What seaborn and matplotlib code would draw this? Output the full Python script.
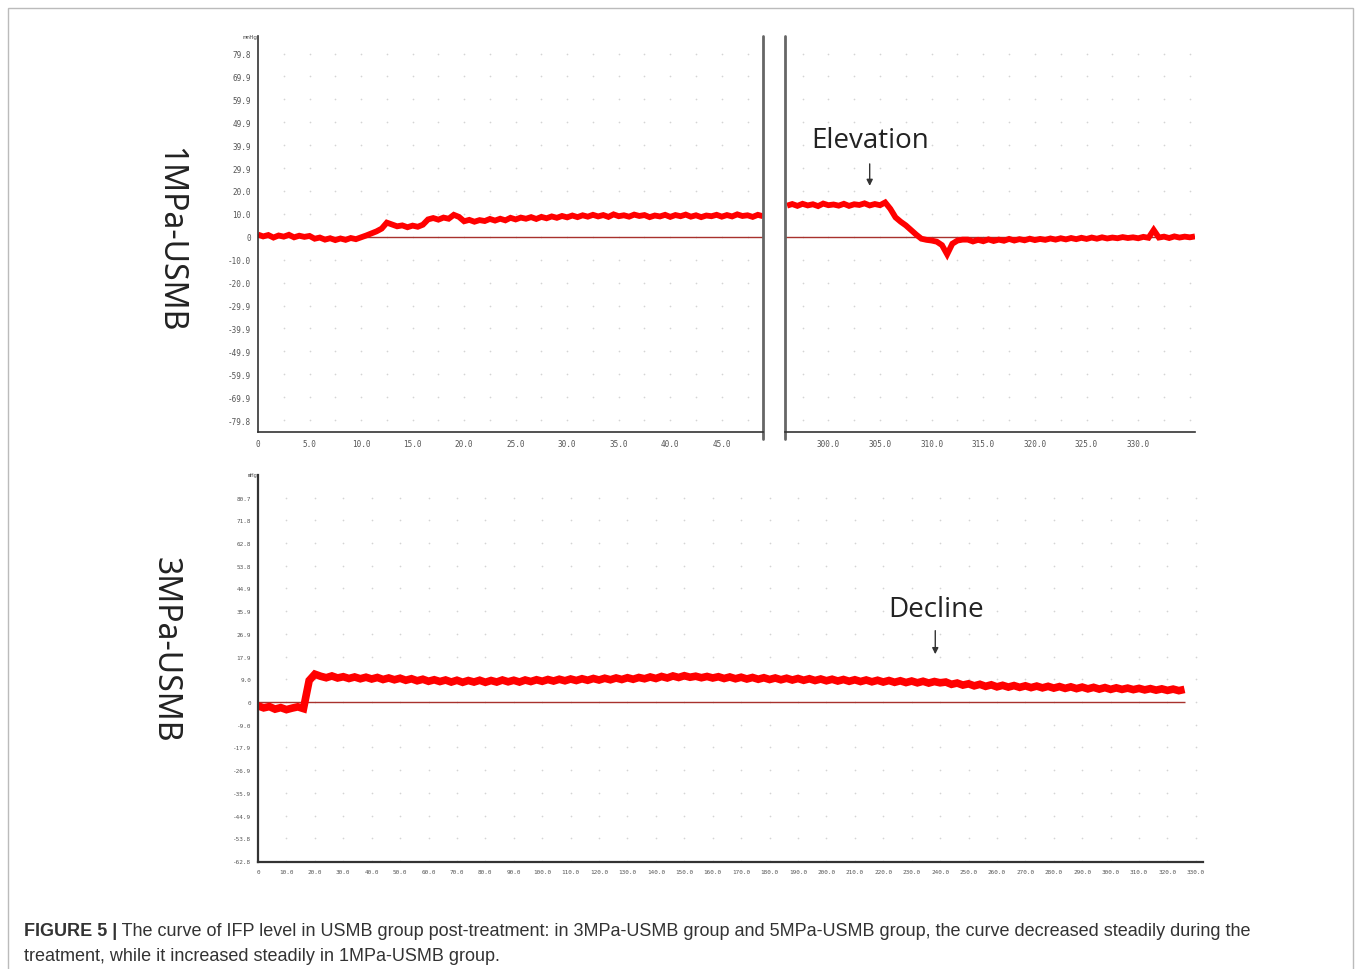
import numpy as np
import pandas as pd
import matplotlib
matplotlib.use("Agg")
import matplotlib.pyplot as plt
import seaborn as sns

# ----------------------------
# Data
# ----------------------------
# 1MPa-USMB, first segment, sampled every 0.5 s
t_1a = np.arange(0, 49.01, 0.5)
ifp_1a = [1.0, 0.2, 0.8, -0.3, 0.6, 0.1, 0.9, -0.2, 0.5, 0.0,
          0.4, -0.8, -0.3, -1.2, -0.6, -1.4, -0.7, -1.3, -0.5, -1.0,
          -0.2, 0.6, 1.5, 2.4, 3.6, 6.2, 5.4, 4.6, 5.0, 4.2,
          4.9, 4.4, 5.3, 7.6, 8.2, 7.5, 8.4, 7.9, 9.6, 8.7,
          6.8, 7.4, 6.6, 7.3, 6.9, 7.8, 7.1, 7.9, 7.2, 8.3,
          7.6, 8.4, 7.9, 8.6, 7.8, 8.7, 8.1, 8.9, 8.3, 9.1,
          8.5, 9.3, 8.6, 9.4, 8.8, 9.6, 8.9, 9.5, 8.7, 9.8,
          9.0, 9.4, 8.8, 9.7, 9.1, 9.5, 8.6, 9.3, 8.9, 9.6,
          8.7, 9.5, 9.0, 9.7, 8.8, 9.4, 8.6, 9.3, 9.0, 9.6,
          8.8, 9.5, 8.9, 9.8, 9.1, 9.4, 8.7, 9.6, 9.0]

# 1MPa-USMB, second segment
t_1b = np.arange(296, 335.51, 0.5)
ifp_1b = [13.6, 14.3, 13.5, 14.4, 13.7, 14.2, 13.4, 14.5, 13.8, 14.1,
          13.6, 14.4, 13.5, 14.2, 13.9, 14.6, 13.7, 14.3, 13.8, 15.0,
          12.2, 8.5, 6.6, 5.0, 3.0, 1.0, -0.8, -1.3, -1.6, -2.1,
          -3.6, -7.6, -3.0, -1.6, -1.2, -1.2, -2.0, -1.3, -1.9, -1.1,
          -1.8, -1.2, -1.7, -0.9, -1.6, -1.0, -1.5, -0.8, -1.4, -0.9,
          -1.3, -0.7, -1.2, -0.6, -1.1, -0.5, -1.0, -0.4, -0.9, -0.3,
          -0.8, -0.2, -0.7, -0.3, -0.6, -0.1, -0.5, -0.2, -0.6, 0.0,
          -0.4, 3.0, -0.3, 0.1, -0.5, 0.2, -0.3, 0.1, -0.2, 0.2]

# 3MPa-USMB, sampled every 2 s
t_3 = np.arange(0, 326.1, 2)
ifp_3 = [-1.5, -2.3, -1.8, -2.8, -2.2, -3.0, -2.4, -1.9, -2.6, 8.5,
         11.0, 10.2, 9.6, 10.3, 9.5, 10.0, 9.3, 9.9, 9.2, 9.8,
         9.1, 9.7, 8.9, 9.5, 8.8, 9.4, 8.6, 9.2, 8.4, 9.0,
         8.2, 8.8, 8.1, 8.7, 7.9, 8.6, 7.8, 8.5, 7.9, 8.6,
         7.8, 8.5, 7.9, 8.7, 8.0, 8.6, 7.9, 8.7, 8.1, 8.8,
         8.2, 8.9, 8.3, 9.0, 8.4, 9.1, 8.5, 9.2, 8.6, 9.3,
         8.7, 9.4, 8.8, 9.5, 8.9, 9.6, 9.0, 9.7, 9.2, 9.9,
         9.3, 10.1, 9.5, 10.3, 9.7, 10.4, 9.8, 10.2, 9.6, 10.1,
         9.5, 10.0, 9.3, 9.9, 9.2, 9.8, 9.1, 9.7, 9.0, 9.6,
         8.9, 9.5, 8.8, 9.4, 8.7, 9.3, 8.6, 9.2, 8.5, 9.1,
         8.4, 9.0, 8.3, 8.9, 8.2, 8.8, 8.1, 8.7, 8.0, 8.6,
         7.9, 8.5, 7.8, 8.4, 7.7, 8.3, 7.6, 8.2, 7.5, 8.1,
         7.6, 7.9, 7.0, 7.5, 6.7, 7.2, 6.4, 7.0, 6.2, 6.8,
         6.0, 6.6, 5.9, 6.5, 5.8, 6.4, 5.7, 6.3, 5.6, 6.2,
         5.5, 6.1, 5.4, 6.0, 5.3, 5.9, 5.2, 5.8, 5.1, 5.7,
         5.0, 5.6, 5.0, 5.5, 4.9, 5.4, 4.8, 5.3, 4.7, 5.2,
         4.6, 5.1, 4.5, 5.0]

yticks_1 = [79.8, 69.9, 59.9, 49.9, 39.9, 29.9, 20.0, 10.0, 0,
            -10.0, -20.0, -29.9, -39.9, -49.9, -59.9, -69.9, -79.8]
yticks_3 = [80.7, 71.8, 62.8, 53.8, 44.9, 35.9, 26.9, 17.9, 9.0, 0,
            -9.0, -17.9, -26.9, -35.9, -44.9, -53.8, -62.8]
xticks_1a = [0, 5, 10, 15, 20, 25, 30, 35, 40, 45]
xticks_1b = [300, 305, 310, 315, 320, 325, 330]
xticks_3 = list(range(0, 331, 10))

caption_bold = "FIGURE 5 |"
caption_1 = (" The curve of IFP level in USMB group post-treatment: in 3MPa-USMB group "
             "and 5MPa-USMB group, the curve decreased steadily during the")
caption_2 = "treatment, while it increased steadily in 1MPa-USMB group."

# ----------------------------
# Style
# ----------------------------
sns.set_style("white")
plt.rcParams["font.family"] = ["DejaVu Sans"]

RED = "#ff0000"
BASE = "#a8322d"
AXC = "#333333"
TICKFONT = dict(family="DejaVu Sans Mono", color="#555555")


def fmt(v):
    return "0" if v == 0 else f"{v:.1f}"


fig = plt.figure(figsize=(13.55, 9.7), dpi=100)
ax1a = fig.add_axes([258 / 1355, 1 - 433 / 970, 505 / 1355, 396 / 970])
ax1b = fig.add_axes([785 / 1355, 1 - 433 / 970, 410 / 1355, 396 / 970])
ax3 = fig.add_axes([258 / 1355, 1 - 863 / 970, 945 / 1355, 387 / 970])


def grid_dots(ax, xs, ys):
    gx, gy = np.meshgrid(xs, ys)
    ax.scatter(gx.ravel(), gy.ravel(), s=1.5, color="#d4d4d4", linewidths=0, zorder=0)


def style_axis(ax, lw=1.2):
    for s in ["top", "right"]:
        ax.spines[s].set_visible(False)
    for s in ["left", "bottom"]:
        ax.spines[s].set_color(AXC)
        ax.spines[s].set_linewidth(lw)
    ax.set_xlabel("")
    ax.set_ylabel("")


line_kw = dict(color=RED, zorder=2, solid_joinstyle="miter", solid_capstyle="butt")

# ----------------------------
# 1MPa-USMB, segment 1
# ----------------------------
df1a = pd.DataFrame({"t": t_1a, "ifp": ifp_1a})
grid_dots(ax1a, np.arange(2.5, 49, 2.5), yticks_1)
ax1a.axhline(0, color=BASE, lw=1, zorder=1)
sns.lineplot(data=df1a, x="t", y="ifp", ax=ax1a, lw=4.2, **line_kw)
ax1a.set_xlim(0, 49)
ax1a.set_ylim(-85, 87.5)
style_axis(ax1a)
ax1a.set_yticks(yticks_1)
ax1a.set_yticklabels([fmt(v) for v in yticks_1], fontsize=5.5, **TICKFONT)
ax1a.set_xticks(xticks_1a)
ax1a.set_xticklabels([fmt(v) for v in xticks_1a], fontsize=5.5, **TICKFONT)
ax1a.set_xticks(np.arange(2.5, 49, 5), minor=True)
ax1a.tick_params(axis="y", direction="out", length=3, width=0.8, color=AXC, pad=2)
ax1a.tick_params(axis="x", which="both", direction="in", length=3, width=0.8, color=AXC, pad=5)
ax1a.axvline(49, ymin=-0.018, ymax=1, color="#666666", lw=2, clip_on=False)
ax1a.text(0, 1.0, "mmHg", transform=ax1a.transAxes, ha="right", va="center",
          fontsize=4.5, **TICKFONT)

# ----------------------------
# 1MPa-USMB, segment 2
# ----------------------------
df1b = pd.DataFrame({"t": t_1b, "ifp": ifp_1b})
grid_dots(ax1b, np.arange(297.5, 335.5, 2.5), yticks_1)
ax1b.axhline(0, color=BASE, lw=1, zorder=1)
sns.lineplot(data=df1b, x="t", y="ifp", ax=ax1b, lw=4.2, **line_kw)
ax1b.set_xlim(295.8, 335.5)
ax1b.set_ylim(-85, 87.5)
style_axis(ax1b)
ax1b.spines["left"].set_visible(False)
ax1b.set_yticks([])
ax1b.set_xticks(xticks_1b)
ax1b.set_xticklabels([fmt(v) for v in xticks_1b], fontsize=5.5, **TICKFONT)
ax1b.set_xticks(np.arange(297.5, 335.5, 5), minor=True)
ax1b.tick_params(axis="x", which="both", direction="in", length=3, width=0.8, color=AXC, pad=5)
ax1b.axvline(295.8, ymin=-0.018, ymax=1, color="#666666", lw=2, clip_on=False)
ax1b.annotate("", xy=(304, 21), xytext=(304, 33),
              arrowprops=dict(arrowstyle="-|>", color="#333333", lw=1, mutation_scale=9))
ax1b.text(304, 39.3, "Elevation", ha="center", va="baseline", fontsize=20,
          family="Open Sans", color="#222222")

# ----------------------------
# 3MPa-USMB
# ----------------------------
df3 = pd.DataFrame({"t": t_3, "ifp": ifp_3})
grid_dots(ax3, np.arange(10, 333, 10), yticks_3)
ax3.hlines(0, t_3[0], t_3[-1], color=BASE, lw=1, zorder=1)
sns.lineplot(data=df3, x="t", y="ifp", ax=ax3, lw=5.5, **line_kw)
ax3.set_xlim(0, 332.5)
ax3.set_ylim(-63.2, 89.7)
style_axis(ax3, lw=1.6)
ax3.set_yticks(yticks_3)
ax3.set_yticklabels([fmt(v) for v in yticks_3], fontsize=4.3, **TICKFONT)
ax3.set_xticks(xticks_3)
ax3.set_xticklabels([fmt(v) for v in xticks_3], fontsize=4.3, **TICKFONT)
ax3.set_xticks(np.arange(5, 333, 10), minor=True)
ax3.tick_params(axis="y", direction="out", length=3, width=0.8, color=AXC, pad=2)
ax3.tick_params(axis="x", which="both", direction="in", length=3, width=0.8, color=AXC, pad=5)
ax3.text(0, 1.0, "mHg", transform=ax3.transAxes, ha="right", va="center",
         fontsize=4, **TICKFONT)
ax3.annotate("", xy=(238.3, 17.8), xytext=(238.3, 29.3),
             arrowprops=dict(arrowstyle="-|>", color="#333333", lw=1, mutation_scale=9))
ax3.text(238.6, 34.1, "Decline", ha="center", va="baseline", fontsize=20,
         family="Open Sans", color="#222222")

# ----------------------------
# Side labels, caption, frame
# ----------------------------
fig.text(170 / 1355, 1 - 240 / 970, "1MPa-USMB", rotation=270, ha="center", va="center",
         fontsize=23, family="Noto Sans", color="#222222")
fig.text(165 / 1355, 1 - 650 / 970, "3MPa-USMB", rotation=270, ha="center", va="center",
         fontsize=23, family="Noto Sans", color="#222222")

cap_font = dict(family="Liberation Sans", fontsize=13, color="#333333", va="center")
tb = fig.text(24 / 1355, 1 - 932 / 970, caption_bold, weight="bold", **cap_font)
fig.canvas.draw()
bb = tb.get_window_extent(renderer=fig.canvas.get_renderer())
fig.text(bb.x1 / fig.bbox.width, 1 - 932 / 970, caption_1, **cap_font)
fig.text(24 / 1355, 1 - 957 / 970, caption_2, **cap_font)

frame = plt.Rectangle((8 / 1355, -0.01), 1345 / 1355, 1 - 9 / 970 + 0.01,
                      transform=fig.transFigure, fill=False, edgecolor="#bbbbbb", lw=1)
fig.patches.append(frame)

fig.savefig("out.png", dpi=100)
